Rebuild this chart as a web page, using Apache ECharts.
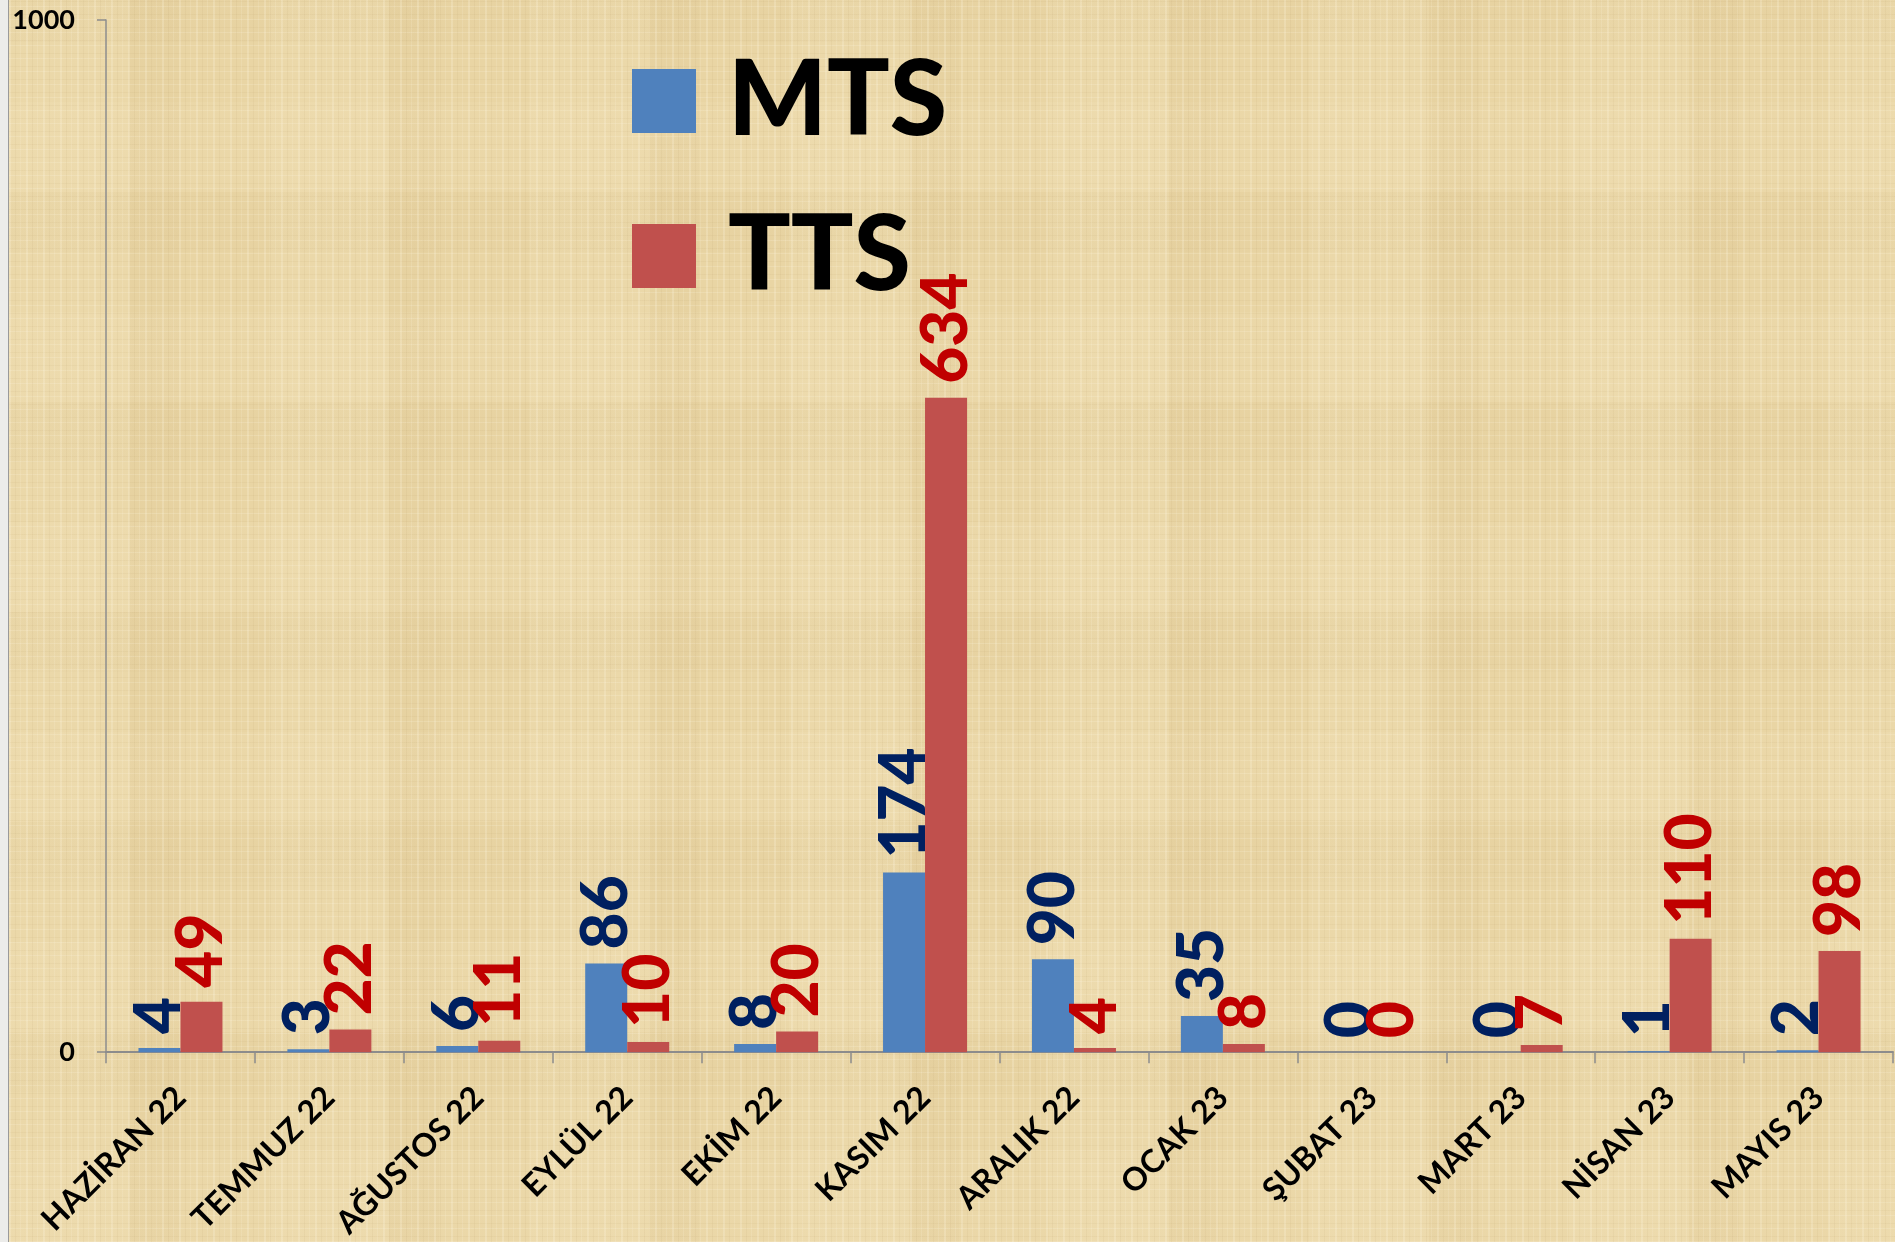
<!DOCTYPE html>
<html>
<head>
<meta charset="utf-8">
<script src="https://cdn.jsdelivr.net/npm/echarts@6/dist/echarts.min.js"></script>
<style>
  html, body { margin: 0; padding: 0; width: 1895px; height: 1242px; overflow: hidden; background: #ececea; }
  #chart {
    position: absolute; left: 8px; top: 0; width: 1887px; height: 1242px;
    border-left: 1px solid #9a9a9a; box-sizing: border-box;
    background:
      repeating-linear-gradient(90deg, rgba(255,248,228,0.22) 0 2px, transparent 2px 6px, rgba(170,140,85,0.08) 6px 7px, transparent 7px 11px, rgba(255,248,228,0.14) 11px 12px, transparent 12px 17px),
      repeating-linear-gradient(0deg, rgba(255,248,228,0.18) 0 1px, transparent 1px 5px, rgba(170,140,85,0.07) 5px 6px, transparent 6px 13px),
      repeating-linear-gradient(90deg, rgba(255,244,215,0.10) 0 120px, rgba(190,160,105,0.05) 120px 170px, transparent 170px 260px),
      repeating-linear-gradient(0deg, rgba(255,244,215,0.08) 0 90px, transparent 90px 150px, rgba(190,160,105,0.04) 150px 210px),
      #e9d5a4;
  }
</style>
</head>
<body>
<div id="chart"></div>
<script>
// Monthly counts for MTS and TTS, June 2022 – May 2023
const months = ['HAZİRAN 22', 'TEMMUZ 22', 'AĞUSTOS 22', 'EYLÜL 22', 'EKİM 22', 'KASIM 22',
                'ARALIK 22', 'OCAK 23', 'ŞUBAT 23', 'MART 23', 'NİSAN 23', 'MAYIS 23'];
const mtsValues = [4, 3, 6, 86, 8, 174, 90, 35, 0, 0, 1, 2];
const ttsValues = [49, 22, 11, 10, 20, 634, 4, 8, 0, 7, 110, 98];
const yTicks = [0, 1000];

const FONT = 'Lato, "Open Sans", sans-serif';

function valueLabel(color) {
  return {
    show: true,
    position: 'top',
    rotate: 90,
    align: 'left',
    verticalAlign: 'middle',
    distance: 14,
    color: color,
    fontFamily: FONT,
    fontWeight: 900,
    fontSize: 64
  };
}

const chart = echarts.init(document.getElementById('chart'), null, { renderer: 'canvas' });
chart.setOption({
  backgroundColor: 'transparent',
  animation: false,
  legend: {
    orient: 'vertical',
    left: 623,
    top: 49,
    padding: 0,
    itemWidth: 64,
    itemHeight: 64,
    itemGap: 51,
    icon: 'rect',
    textStyle: {
      fontFamily: FONT,
      fontWeight: 900,
      fontSize: 104,
      color: '#000',
      padding: [0, 0, 0, 27]
    },
    data: ['MTS', 'TTS']
  },
  grid: { left: 97, right: 2, top: 20, bottom: 189, containLabel: false },
  xAxis: {
    type: 'category',
    data: months,
    boundaryGap: true,
    axisLine: { show: true, lineStyle: { color: '#8c8c8c', width: 2 } },
    axisTick: { show: true, length: 11, lineStyle: { color: '#8c8c8c', width: 1.5 } },
    axisLabel: {
      interval: 0,
      rotate: 45,
      margin: 40,
      color: '#000',
      fontFamily: FONT,
      fontWeight: 'bold',
      fontSize: 32
    }
  },
  yAxis: {
    type: 'value',
    min: yTicks[0],
    max: yTicks[yTicks.length - 1],
    interval: yTicks[1] - yTicks[0],
    splitLine: { show: false },
    axisLine: { show: true, lineStyle: { color: '#8c8c8c', width: 1.5 } },
    axisTick: { show: true, length: 9, lineStyle: { color: '#8c8c8c', width: 1.5 } },
    axisLabel: {
      margin: 31,
      color: '#000',
      fontFamily: FONT,
      fontWeight: 'bold',
      fontSize: 27,
      formatter: function (v) { return String(v); }
    }
  },
  series: [
    {
      name: 'MTS',
      type: 'bar',
      data: mtsValues,
      barWidth: 42,
      barGap: '0%',
      itemStyle: { color: '#4f81bd' },
      label: valueLabel('#002060')
    },
    {
      name: 'TTS',
      type: 'bar',
      data: ttsValues,
      barWidth: 42,
      barGap: '0%',
      itemStyle: { color: '#c0504d' },
      label: valueLabel('#c00000')
    }
  ]
});
</script>
</body>
</html>
